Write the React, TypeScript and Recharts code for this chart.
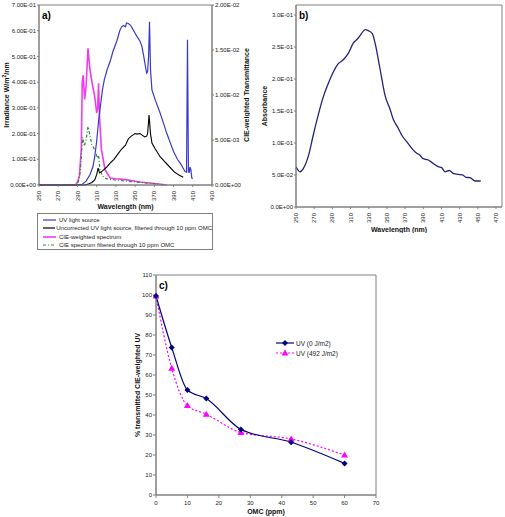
import React from 'react';
import { LineChart, Line, XAxis, YAxis, Legend, ReferenceArea } from 'recharts';

const FONT = '"Liberation Sans", Arial, sans-serif';
const FRAME = '#808080';

// a) irradiance spectra (left axis) and CIE-weighted transmittance (right axis)
const wlTicksA = [250, 270, 290, 310, 330, 350, 370, 390, 410, 430];
const irrTicks = [0, 0.1, 0.2, 0.3, 0.4, 0.5, 0.6, 0.7];
const cieTicks = [0, 0.005, 0.01, 0.015, 0.02];

const uvWl = [250, 290, 295, 299, 303, 306, 308, 310, 312, 314, 316, 318, 321, 324, 327, 331, 334, 336, 338, 340, 341, 343, 345, 347, 350, 352, 355, 357, 359, 361, 362, 363, 364, 365, 366, 367.5, 371, 376, 380, 383, 387, 390, 394, 397, 400, 402, 403.5, 404.5, 405.5, 406.5, 407, 408, 409, 410];
const uvIrr = [0, 0, 0.003, 0.015, 0.04, 0.07, 0.11, 0.17, 0.25, 0.31, 0.37, 0.41, 0.45, 0.48, 0.52, 0.56, 0.6, 0.615, 0.62, 0.615, 0.63, 0.628, 0.622, 0.61, 0.59, 0.577, 0.56, 0.54, 0.5, 0.455, 0.435, 0.44, 0.5, 0.635, 0.45, 0.37, 0.33, 0.28, 0.235, 0.2, 0.16, 0.13, 0.1, 0.085, 0.065, 0.052, 0.05, 0.565, 0.05, 0.05, 0.07, 0.06, 0.027, 0.025];

const filtWl = [250, 252, 298, 302, 305, 308, 310, 311.5, 313, 316, 320, 324, 328, 332, 336, 340, 343, 346, 348, 350, 352, 355, 357, 360, 362, 363, 364.5, 366, 367.5, 371, 376, 381, 386, 391, 396, 400];
const filtIrr = [0.003, 0, 0, 0.005, 0.01, 0.02, 0.04, 0.066, 0.047, 0.055, 0.068, 0.085, 0.1, 0.12, 0.14, 0.155, 0.18, 0.19, 0.195, 0.2, 0.198, 0.2, 0.195, 0.187, 0.19, 0.2, 0.272, 0.2, 0.163, 0.14, 0.11, 0.09, 0.07, 0.05, 0.038, 0.03];

const cieWl = [250, 288, 290, 292, 294, 295, 296, 297.5, 299, 301, 303, 305, 308, 310, 311, 312, 313, 315, 318.7, 324, 330, 340, 355, 370, 383];
const cieVal = [0, 0, 0.0003, 0.001, 0.004, 0.0115, 0.0122, 0.0095, 0.011, 0.0152, 0.0128, 0.0115, 0.0098, 0.008, 0.0085, 0.0113, 0.0075, 0.0039, 0.0017, 0.00078, 0.0007, 0.0006, 0.00034, 0.00017, 0];

const cieFiltWl = [250, 289, 291, 293, 294.5, 295.5, 297, 299, 301, 303, 305, 307, 309, 310.5, 312, 313.5, 316, 320, 325, 335, 350, 365, 375, 380];
const cieFiltVal = [0, 0, 0.0004, 0.0015, 0.004, 0.0053, 0.0043, 0.005, 0.0065, 0.0055, 0.0045, 0.0041, 0.0037, 0.003, 0.0033, 0.0017, 0.001, 0.0007, 0.0006, 0.0005, 0.00034, 0.0002, 0.0001, 0];

const namesA = [
  'UV light source',
  'Uncorrected UV light source, filtered through 10 ppm OMC',
  'CIE-weighted spectrum',
  'CIE spectrum filtered through 10 ppm OMC',
];

// b) absorbance of OMC
const wlTicksB = [250, 270, 290, 310, 330, 350, 370, 390, 410, 430, 450, 470];
const absTicks = [0, 0.05, 0.1, 0.15, 0.2, 0.25, 0.3];
const absWl = [250, 254.4, 258, 263.5, 269, 274.5, 280, 285.5, 291, 296.5, 302, 307.5, 313, 318.5, 322, 326, 329.5, 334, 337, 342.4, 348, 353.4, 357, 362.5, 366.2, 371.8, 377.3, 382.8, 386.4, 389.3, 395.5, 401, 406.5, 410.2, 413.9, 418.6, 423, 428.5, 433.3, 437, 441.4, 447, 453.2];
const absVal = [0.063, 0.055, 0.06, 0.079, 0.1125, 0.144, 0.172, 0.193, 0.211, 0.224, 0.23, 0.24, 0.256, 0.264, 0.271, 0.277, 0.2755, 0.271, 0.256, 0.216, 0.174, 0.153, 0.137, 0.123, 0.1125, 0.102, 0.0917, 0.084, 0.081, 0.076, 0.0734, 0.068, 0.063, 0.0615, 0.055, 0.057, 0.0526, 0.051, 0.05, 0.0464, 0.0458, 0.0406, 0.0406];

// c) transmitted CIE-weighted UV vs OMC concentration
const omcPpm = [0, 5, 10, 16, 27, 43, 60];
const uv0 = [99.5, 73.8, 52.5, 48.2, 32.8, 26.4, 15.8];
const uv492 = [99.5, 63.4, 44.7, 40.4, 31.3, 28, 20];
const omcTicks = [0, 10, 20, 30, 40, 50, 60, 70];
const pctTicks = [0, 10, 20, 30, 40, 50, 60, 70, 80, 90, 100, 110];
const namesC = ['UV (0 J/m2)', 'UV (492 J/m2)'];

const zip = (xs: number[], ys: number[]) => xs.map((x, i) => ({ x, y: ys[i] }));

function sci(v: number, d: number) {
  if (v === 0) return `${(0).toFixed(d)}E+00`;
  const e = Math.floor(Math.log10(Math.abs(v)) + 1e-9);
  const m = v / Math.pow(10, e);
  return `${m.toFixed(d)}E${e < 0 ? '-' : '+'}${String(Math.abs(e)).padStart(2, '0')}`;
}

const tickStyle = { fontSize: 6, fill: '#222', fontFamily: FONT };
const titleStyle = { fontSize: 7, fontWeight: 'bold' as const, fill: '#111', fontFamily: FONT };

const VTick = ({ x, y, payload }: any) => (
  <text
    x={x}
    y={y + 2}
    dy="0.35em"
    transform={`rotate(-90 ${x} ${y + 2})`}
    textAnchor="end"
    {...tickStyle}
  >
    {payload.value}
  </text>
);

const sideTitle = (text: React.ReactNode, dx: number) => (props: any) => {
  const vb = props.viewBox || { x: 0, y: 0, width: 0, height: 0 };
  const cx = vb.x + dx;
  const cy = vb.y + vb.height / 2;
  return (
    <text x={cx} y={cy} dy="0.35em" textAnchor="middle" transform={`rotate(-90 ${cx} ${cy})`} {...titleStyle}>
      {text}
    </text>
  );
};

const panelTag = (tag: string) => (props: any) => {
  const vb = props.viewBox || { x: 0, y: 0 };
  return (
    <text x={vb.x + 3} y={vb.y + 14} fontSize={10} fontWeight="bold" fontFamily={FONT} fill="#000">
      {tag}
    </text>
  );
};

const legendStylesA = [
  { stroke: '#3a3ac8', dash: undefined, w: 1.2 },
  { stroke: '#000000', dash: undefined, w: 1.2 },
  { stroke: '#f03cf0', dash: undefined, w: 1.6 },
  { stroke: '#2e8b2e', dash: '3 2 1 2', w: 1.2 },
];

const LegendA = () => (
  <div style={{ width: 176, height: 37, border: `1px solid ${FRAME}`, boxSizing: 'border-box', background: '#fff', paddingTop: 2 }}>
    {namesA.map((n, i) => (
      <div key={n} style={{ display: 'flex', alignItems: 'center', height: 8.3, fontSize: 6, fontFamily: FONT, color: '#222', whiteSpace: 'nowrap' }}>
        <svg width={16} height={6} style={{ marginLeft: 4 }}>
          <line x1={1} y1={3} x2={14} y2={3} stroke={legendStylesA[i].stroke} strokeWidth={legendStylesA[i].w} strokeDasharray={legendStylesA[i].dash} />
        </svg>
        <span style={{ marginLeft: 1 }}>{n}</span>
      </div>
    ))}
  </div>
);

const Diamond = ({ cx, cy }: any) =>
  cx == null ? null : <path d={`M${cx},${cy - 3}L${cx + 3},${cy}L${cx},${cy + 3}L${cx - 3},${cy}Z`} fill="#000080" />;
const Tri = ({ cx, cy }: any) =>
  cx == null ? null : <path d={`M${cx},${cy - 3.5}L${cx + 3.5},${cy + 2.5}L${cx - 3.5},${cy + 2.5}Z`} fill="#ff00ff" />;

const LegendC = () => (
  <div style={{ fontSize: 6.5, fontFamily: FONT, color: '#222' }}>
    {namesC.map((n, i) => (
      <div key={n} style={{ display: 'flex', alignItems: 'center', height: 10, whiteSpace: 'nowrap' }}>
        <svg width={20} height={8}>
          <line x1={1} y1={4} x2={19} y2={4} stroke={i === 0 ? '#000080' : '#ff00ff'} strokeWidth={1.2} strokeDasharray={i === 0 ? undefined : '2 2'} />
          {i === 0 ? <Diamond cx={10} cy={4} /> : <Tri cx={10} cy={4} />}
        </svg>
        <span style={{ marginLeft: 1 }}>{n}</span>
      </div>
    ))}
  </div>
);

function PanelA() {
  return (
    <LineChart width={250} height={212} margin={{ top: 5, right: 0, bottom: 0, left: 0 }}>
      <XAxis
        type="number"
        dataKey="x"
        domain={[250, 430]}
        ticks={wlTicksA}
        interval={0}
        height={27}
        tick={<VTick />}
        tickSize={2}
        stroke={FRAME}
        label={{ value: 'Wavelength (nm)', position: 'insideBottom', offset: 3, ...titleStyle }}
      />
      <YAxis
        yAxisId="irr"
        width={39}
        domain={[0, 0.7]}
        ticks={irrTicks}
        interval={0}
        tickSize={2}
        tickMargin={1}
        tick={tickStyle}
        stroke={FRAME}
        tickFormatter={(v: number) => sci(v, 2)}
        label={sideTitle(
          <>
            Irradiance W/m<tspan dy={-3} fontSize={5}>2</tspan>
            <tspan dy={3}>/nm</tspan>
          </>,
          7,
        )}
      />
      <YAxis
        yAxisId="cie"
        orientation="right"
        width={38}
        domain={[0, 0.02]}
        ticks={cieTicks}
        interval={0}
        tickSize={2}
        tickMargin={1}
        tick={tickStyle}
        stroke={FRAME}
        tickFormatter={(v: number) => sci(v, 2)}
        label={sideTitle('CIE-weighted Transmittance', 34.5)}
      />
      <ReferenceArea yAxisId="irr" x1={250} x2={430} y1={0} y2={0.7} fill="none" stroke={FRAME} label={panelTag('a)')} />
      <Line yAxisId="cie" data={zip(cieWl, cieVal)} dataKey="y" name={namesA[2]} stroke="#f03cf0" strokeWidth={1.6} dot={false} isAnimationActive={false} />
      <Line yAxisId="cie" data={zip(cieFiltWl, cieFiltVal)} dataKey="y" name={namesA[3]} stroke="#2e8b2e" strokeWidth={1.2} strokeDasharray="3 2 1 2" dot={false} isAnimationActive={false} />
      <Line yAxisId="irr" data={zip(uvWl, uvIrr)} dataKey="y" name={namesA[0]} stroke="#3a3ac8" strokeWidth={1.2} dot={false} isAnimationActive={false} />
      <Line yAxisId="irr" data={zip(filtWl, filtIrr)} dataKey="y" name={namesA[1]} stroke="#000000" strokeWidth={1.1} dot={false} isAnimationActive={false} />
      <Legend
        layout="vertical"
        align="center"
        verticalAlign="middle"
        content={<LegendA />}
        wrapperStyle={{ left: 37, top: 213, width: 176 }}
      />
    </LineChart>
  );
}

function PanelB() {
  return (
    <LineChart width={255} height={233} margin={{ top: 5, right: 3, bottom: 0, left: 0 }}>
      <XAxis
        type="number"
        dataKey="x"
        domain={[250, 476.6]}
        ticks={wlTicksB}
        interval={0}
        height={26}
        tick={<VTick />}
        tickSize={2}
        stroke={FRAME}
        allowDataOverflow
        label={{ value: 'Wavelength (nm)', position: 'insideBottom', offset: 1, ...titleStyle }}
      />
      <YAxis
        width={46}
        domain={[0, 0.3156]}
        ticks={absTicks}
        interval={0}
        tickSize={2}
        tickMargin={1}
        tick={tickStyle}
        stroke={FRAME}
        allowDataOverflow
        tickFormatter={(v: number) => sci(v, 1)}
        label={sideTitle('Absorbance', 15)}
      />
      <ReferenceArea x1={250} x2={476.6} y1={0} y2={0.3156} fill="none" stroke={FRAME} label={panelTag('b)')} />
      <Line data={zip(absWl, absVal)} dataKey="y" type="monotone" stroke="#22227a" strokeWidth={1.3} dot={false} isAnimationActive={false} />
    </LineChart>
  );
}

function PanelC() {
  return (
    <LineChart width={270} height={247} margin={{ top: 5, right: 4, bottom: 0, left: 0 }}>
      <XAxis
        type="number"
        dataKey="x"
        domain={[0, 70]}
        ticks={omcTicks}
        interval={0}
        height={22}
        tickSize={3}
        tickMargin={3}
        tick={tickStyle}
        stroke={FRAME}
        label={{ value: 'OMC (ppm)', position: 'insideBottom', offset: 3, ...titleStyle }}
      />
      <YAxis
        width={46}
        domain={[0, 110]}
        ticks={pctTicks}
        interval={0}
        tickSize={3}
        tickMargin={1}
        tick={tickStyle}
        stroke={FRAME}
        label={sideTitle('% transmitted CIE-weighted  UV', 28)}
      />
      <ReferenceArea x1={0} x2={70} y1={0} y2={110} fill="none" stroke={FRAME} label={panelTag('c)')} />
      <Line data={zip(omcPpm, uv492)} dataKey="y" name={namesC[1]} type="monotone" stroke="#ff00ff" strokeWidth={1.2} strokeDasharray="2 2" dot={<Tri />} isAnimationActive={false} />
      <Line data={zip(omcPpm, uv0)} dataKey="y" name={namesC[0]} type="monotone" stroke="#000080" strokeWidth={1.2} dot={<Diamond />} isAnimationActive={false} />
      <Legend
        layout="vertical"
        align="center"
        verticalAlign="middle"
        content={<LegendC />}
        wrapperStyle={{ left: 165, top: 68, width: 90 }}
      />
    </LineChart>
  );
}

export default function App() {
  return (
    <div style={{ position: 'absolute', left: 0, top: 0, width: 505, height: 517, background: '#fff' }}>
      <div style={{ position: 'absolute', left: 0, top: 0 }}>
        <PanelA />
      </div>
      <div style={{ position: 'absolute', left: 250, top: 0 }}>
        <PanelB />
      </div>
      <div style={{ position: 'absolute', left: 110, top: 270 }}>
        <PanelC />
      </div>
    </div>
  );
}
